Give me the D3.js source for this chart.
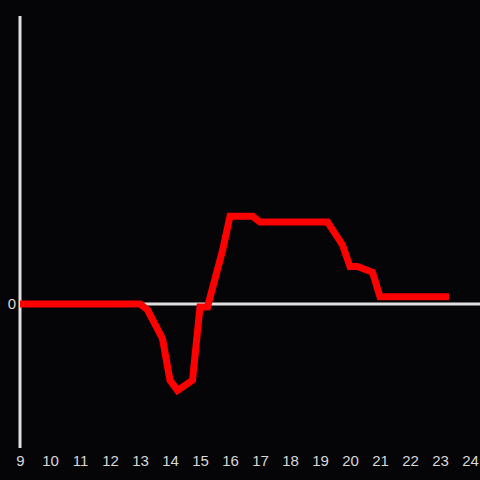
<!DOCTYPE html>
<html>
<head>
<meta charset="utf-8">
<script src="https://cdn.jsdelivr.net/npm/d3@7"></script>
<style>
  html, body { margin: 0; padding: 0; background: #050407; }
  svg { display: block; }
</style>
</head>
<body>
<div id="chart"></div>
<script>
// hours of the day and the measured value
const hours = [9, 13, 13.25, 13.75, 14, 14.25, 14.75, 15, 15.25, 15.75, 16, 16.75, 17,
               19.25, 19.75, 20, 20.25, 20.75, 21, 23.3];
const values = [0, 0, -0.04, -0.24, -0.53, -0.6, -0.53, -0.02, -0.02, 0.37, 0.61, 0.61, 0.57,
                0.57, 0.41, 0.26, 0.26, 0.22, 0.05, 0.05];
const xTicks = [9, 10, 11, 12, 13, 14, 15, 16, 17, 18, 19, 20, 21, 22, 23, 24];
const yTicks = [0];

const width = 480, height = 480;
const margin = { top: 16, right: 10, bottom: 32, left: 20 };

const svg = d3.select("#chart").append("svg")
    .attr("width", width)
    .attr("height", height);

svg.append("rect")
    .attr("width", width)
    .attr("height", height)
    .attr("fill", "#050407");

const x_scale = d3.scaleLinear()
    .domain([9, 24])
    .range([margin.left, width - margin.right]);

const y_scale = d3.scaleLinear()
    .domain([-1, 2])
    .range([height - margin.bottom, margin.top]);

// zero line
svg.append("line")
    .attr("x1", margin.left)
    .attr("x2", width)
    .attr("y1", y_scale(0))
    .attr("y2", y_scale(0))
    .attr("stroke", "#e0e0e0")
    .attr("stroke-width", 3);

// vertical axis line
svg.append("line")
    .attr("x1", margin.left)
    .attr("x2", margin.left)
    .attr("y1", margin.top)
    .attr("y2", height - margin.bottom)
    .attr("stroke", "#e0e0e0")
    .attr("stroke-width", 3);

const xAxis = d3.axisBottom(x_scale)
    .tickValues(xTicks)
    .tickSize(0)
    .tickPadding(7)
    .tickFormat(d => d);

const x_axis = svg.append("g")
    .attr("transform", "translate(0," + (height - margin.bottom) + ")")
    .call(xAxis);
x_axis.select(".domain").remove();
x_axis.selectAll("text")
    .attr("fill", "#d8d8d8")
    .style("font-family", "'Liberation Sans', Arial, sans-serif")
    .style("font-size", "15px");

const yAxis = d3.axisLeft(y_scale)
    .tickValues(yTicks)
    .tickSize(0)
    .tickPadding(4)
    .tickFormat(d => d);

const y_axis = svg.append("g")
    .attr("transform", "translate(" + margin.left + ",0)")
    .call(yAxis);
y_axis.select(".domain").remove();
y_axis.selectAll("text")
    .attr("fill", "#d8d8d8")
    .attr("dy", "0.3em")
    .style("font-family", "'Liberation Sans', Arial, sans-serif")
    .style("font-size", "15px");

const data = hours.map((h, i) => ({ time: h, value: values[i] }));

const line = d3.line()
    .x(d => x_scale(d.time))
    .y(d => y_scale(d.value));

svg.append("path")
    .datum(data)
    .attr("d", line)
    .attr("fill", "none")
    .attr("stroke", "#ff0000")
    .attr("stroke-width", 7)
    .attr("stroke-linejoin", "miter");
</script>
</body>
</html>
